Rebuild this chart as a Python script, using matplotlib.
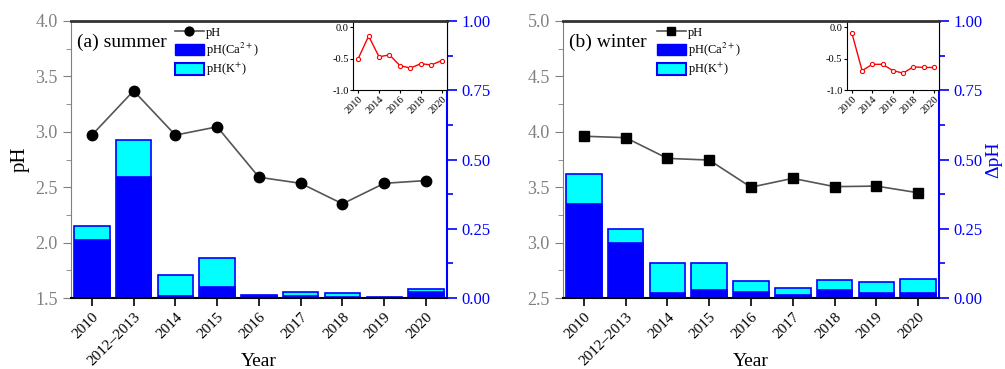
import matplotlib
matplotlib.use("Agg")
import matplotlib.pyplot as plt
from matplotlib.ticker import MultipleLocator, AutoMinorLocator, FormatStrFormatter
from matplotlib.lines import Line2D
from matplotlib.patches import Patch

plt.rcParams['font.family'] = ['Liberation Serif', 'DejaVu Serif']
plt.rcParams['mathtext.fontset'] = 'stix'

categories = ["2010", "2012\u20132013", "2014", "2015", "2016", "2017", "2018", "2019", "2020"]
inset_labels = ["2010", "", "2014", "", "2016", "", "2018", "", "2020"]

summer_pH = [2.97, 3.37, 2.97, 3.045, 2.59, 2.535, 2.35, 2.535, 2.56]
summer_total = [0.259, 0.569, 0.084, 0.143, 0.012, 0.020, 0.017, 0.005, 0.032]
summer_ca = [0.212, 0.440, 0.010, 0.042, 0.010, 0.010, 0.008, 0.003, 0.025]
summer_inset = [-0.50, -0.14, -0.47, -0.44, -0.61, -0.65, -0.58, -0.60, -0.53]

winter_pH = [3.96, 3.947, 3.76, 3.745, 3.50, 3.58, 3.505, 3.51, 3.45]
winter_total = [0.449, 0.249, 0.125, 0.125, 0.060, 0.037, 0.064, 0.058, 0.069]
winter_ca = [0.343, 0.201, 0.020, 0.032, 0.024, 0.013, 0.032, 0.020, 0.020]
winter_inset = [-0.09, -0.69, -0.59, -0.59, -0.69, -0.73, -0.63, -0.64, -0.64]

BLUE = '#0000ff'
CYAN = '#00ffff'
GRAY = '#808080'

fig = plt.figure(figsize=(10.05, 3.69), dpi=100)

def panel(rect, inset_rect, pH, total, ca, inset_vals, ylim, title, marker, show_right_label,
          msize, leg_x):
    ax = fig.add_axes(rect)
    ax2 = ax.twinx()
    x = list(range(len(categories)))
    ax2.bar(x, total, width=0.85, color=CYAN, edgecolor=BLUE, linewidth=1.2, zorder=2)
    ax2.bar(x, ca, width=0.85, color=BLUE, edgecolor=BLUE, linewidth=0.5, zorder=3)
    ax2.set_ylim(0, 1.0)
    ax2.yaxis.set_major_locator(MultipleLocator(0.25))
    ax2.yaxis.set_minor_locator(AutoMinorLocator(2))
    ax2.tick_params(axis='y', which='both', colors=BLUE, direction='out', width=1.2, labelsize=12)
    ax2.tick_params(axis='y', which='major', length=7)
    ax2.tick_params(axis='y', which='minor', length=4)
    ax2.yaxis.set_major_formatter(FormatStrFormatter('%.2f'))
    ax2.spines['right'].set_color(BLUE)
    ax2.spines['right'].set_linewidth(1.5)
    for s in ['left', 'top', 'bottom']:
        ax2.spines[s].set_visible(False)
    if show_right_label:
        ax2.set_ylabel('\u0394pH', color=BLUE, fontsize=14, rotation=90, labelpad=2)

    ax.set_zorder(ax2.get_zorder() + 1)
    ax.patch.set_visible(False)
    ax.plot(x, pH, color='#555555', linewidth=1.2, marker=marker, markersize=msize,
            markerfacecolor='black', markeredgecolor='black', zorder=5)
    ax.set_xlim(-0.5, len(categories) - 0.5)
    ax.set_ylim(*ylim)
    ax.yaxis.set_major_locator(MultipleLocator(0.5))
    ax.yaxis.set_minor_locator(AutoMinorLocator(2))
    ax.yaxis.set_major_formatter(FormatStrFormatter('%.1f'))
    ax.tick_params(axis='y', which='both', colors=GRAY, direction='out', labelsize=13)
    ax.tick_params(axis='y', which='major', length=6)
    ax.tick_params(axis='y', which='minor', length=3.5)
    ax.set_xticks(x)
    ax.set_xticklabels(categories, rotation=45, ha='right', rotation_mode='anchor', fontsize=11)
    ax.tick_params(axis='x', direction='out', length=6, width=1.2, colors='black', pad=3)
    ax.spines['left'].set_color(GRAY)
    ax.spines['top'].set_color('#333333')
    ax.spines['top'].set_linewidth(2)
    ax.spines['bottom'].set_color('black')
    ax.spines['bottom'].set_linewidth(1.5)
    ax.spines['right'].set_visible(False)
    ax.set_xlabel('Year', fontsize=14)
    ax.xaxis.set_label_coords(0.5, -0.2)
    if not show_right_label:
        ax.set_ylabel('pH', fontsize=15, labelpad=4)
    ax.text(0.015, 0.955, title, transform=ax.transAxes, fontsize=14, va='top', ha='left')

    handles = [Line2D([0], [0], color='#555555', marker=marker, markersize=msize * 0.85,
                      markerfacecolor='black', markeredgecolor='black', linewidth=1.2),
               Patch(facecolor=BLUE, edgecolor=BLUE),
               Patch(facecolor=CYAN, edgecolor=BLUE, linewidth=1.5)]
    ax.legend(handles, ['pH', 'pH(Ca$^{2+}$)', 'pH(K$^{+}$)'], loc='upper left',
              bbox_to_anchor=(leg_x, 1.01), frameon=False, fontsize=9,
              handlelength=2.3, handleheight=1.05, handletextpad=0.2, labelspacing=0.15,
              borderaxespad=0.2)

    ia = fig.add_axes(inset_rect)
    ia.plot(x, inset_vals, color='red', linewidth=1.0, marker='o', markersize=3,
            markerfacecolor='white', markeredgecolor='red', markeredgewidth=0.8)
    ia.set_ylim(-1.0, 0.1)
    ia.set_xlim(-0.5, len(categories) - 0.5)
    ia.set_yticks([0.0, -0.5, -1.0])
    ia.yaxis.set_major_formatter(FormatStrFormatter('%.1f'))
    ia.set_xticks(x[::2])
    ia.set_xticklabels(inset_labels[::2], rotation=45, ha='right', rotation_mode='anchor', fontsize=7.5)
    ia.tick_params(axis='y', labelsize=7.5, length=2, pad=1)
    ia.tick_params(axis='x', length=2, pad=1)
    for s in ia.spines.values():
        s.set_linewidth(0.8)
    return ax

panel([0.0706, 0.1924, 0.3741, 0.7507], [0.3512, 0.756, 0.0935, 0.187],
      summer_pH, summer_total, summer_ca, summer_inset, (1.5, 4.0), '(a) summer', 'o', False,
      7.5, 0.257)
panel([0.5602, 0.1924, 0.3741, 0.7507], [0.8425, 0.756, 0.0918, 0.187],
      winter_pH, winter_total, winter_ca, winter_inset, (2.5, 5.0), '(b) winter', 's', True,
      6.5, 0.23)

fig.savefig('out.png', dpi=100)
